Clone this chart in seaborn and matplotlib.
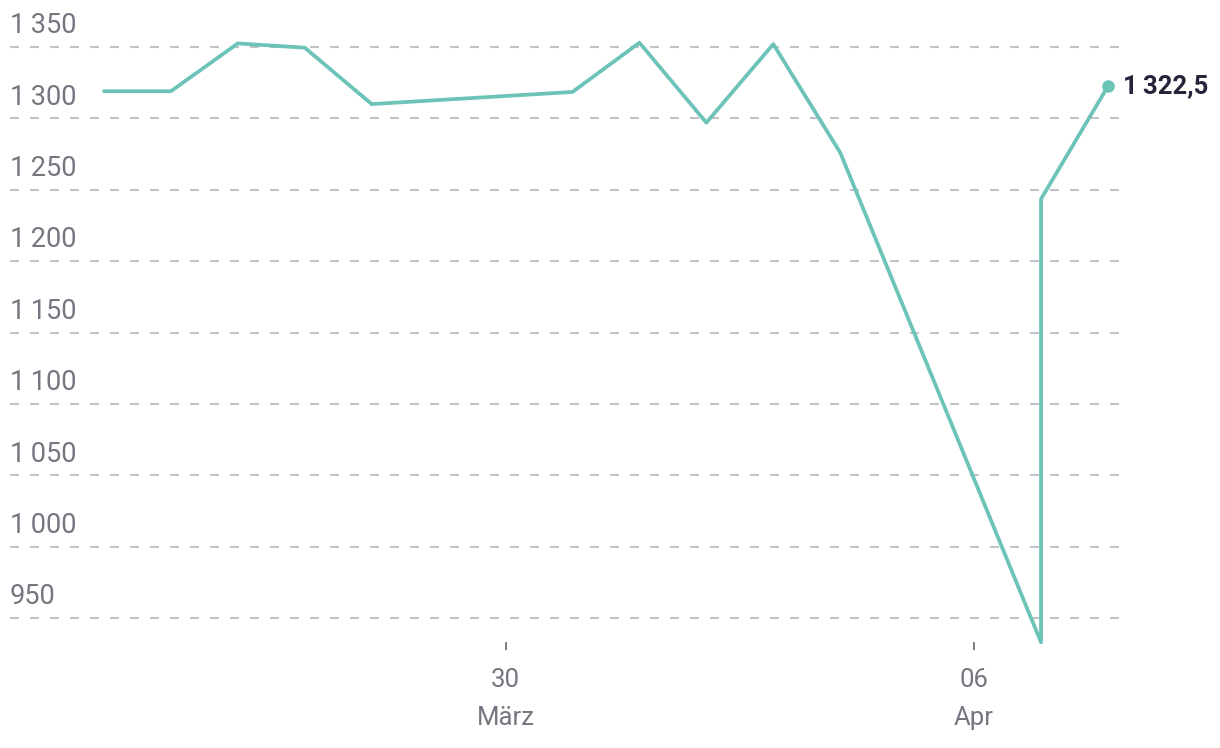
import pandas as pd
import matplotlib
matplotlib.use("Agg")
import matplotlib.pyplot as plt
import seaborn as sns

# data
dates = ['2025-03-24', '2025-03-25', '2025-03-26', '2025-03-27', '2025-03-28',
         '2025-03-31', '2025-04-01', '2025-04-02', '2025-04-03', '2025-04-04',
         '2025-04-07', '2025-04-07', '2025-04-08']
values = [1319, 1319, 1352.5, 1349.5, 1310,
          1318.5, 1353, 1297, 1352, 1276,
          933, 1243.5, 1322.5]
y_ticks = [950, 1000, 1050, 1100, 1150, 1200, 1250, 1300, 1350]
x_ticks = ['2025-03-30', '2025-04-06']
x_tick_labels = ['30\nMärz', '06\nApr']
last_label = '1\u2009322,5'

df = pd.DataFrame({'date': pd.to_datetime(dates), 'value': values})

sns.set_style('white')
fonts = ['Roboto', 'DejaVu Sans']
plt.rcParams['font.family'] = fonts

line_col = '#6cc3b8'
grey = '#77757f'

fig = plt.figure(figsize=(12.2, 7.48), dpi=100)
ax = fig.add_axes([10 / 1220, 98 / 748, 1110 / 1220, 630 / 748])

sns.lineplot(data=df, x='date', y='value', estimator=None, sort=False,
             color=line_col, linewidth=2.7, ax=ax, clip_on=False)

last = df.iloc[-1]
ax.plot(last['date'], last['value'], 'o', color=line_col, markersize=8, clip_on=False)
ax.annotate(last_label, xy=(last['date'], last['value']), xytext=(11, 0),
            textcoords='offset points', ha='left', va='center',
            fontsize=18.5, fontweight='bold', color='#24243a',
            family=fonts, annotation_clip=False)

# x range and y range
x0 = df['date'].iloc[0] - pd.Timedelta(days=1.404)
x1 = df['date'].iloc[-1] + pd.Timedelta(days=0.18)
ax.set_xlim(x0, x1)
ax.set_ylim(927.6, 1368.9)

# gridlines and y labels
for v in y_ticks:
    ax.axhline(v, color='#c3c2c8', linewidth=1.5, linestyle=(0, (4.3, 5.3)), zorder=0)
    ax.annotate(f'{v:,}'.replace(',', '\u2009'), xy=(0, v),
                xycoords=('axes fraction', 'data'), xytext=(0, 5.5),
                textcoords='offset points', ha='left', va='bottom',
                fontsize=19.5, color=grey)
ax.set_yticks([])

ax.set_xticks(pd.to_datetime(x_ticks))
ax.set_xticklabels(x_tick_labels, fontsize=18.5, color=grey, linespacing=1.75)
ax.tick_params(axis='x', direction='in', length=5.8, width=1.3, color=grey, pad=13,
               bottom=True)

ax.set_xlabel('')
ax.set_ylabel('')
for s in ax.spines.values():
    s.set_visible(False)

fig.savefig('out.png', dpi=100)
